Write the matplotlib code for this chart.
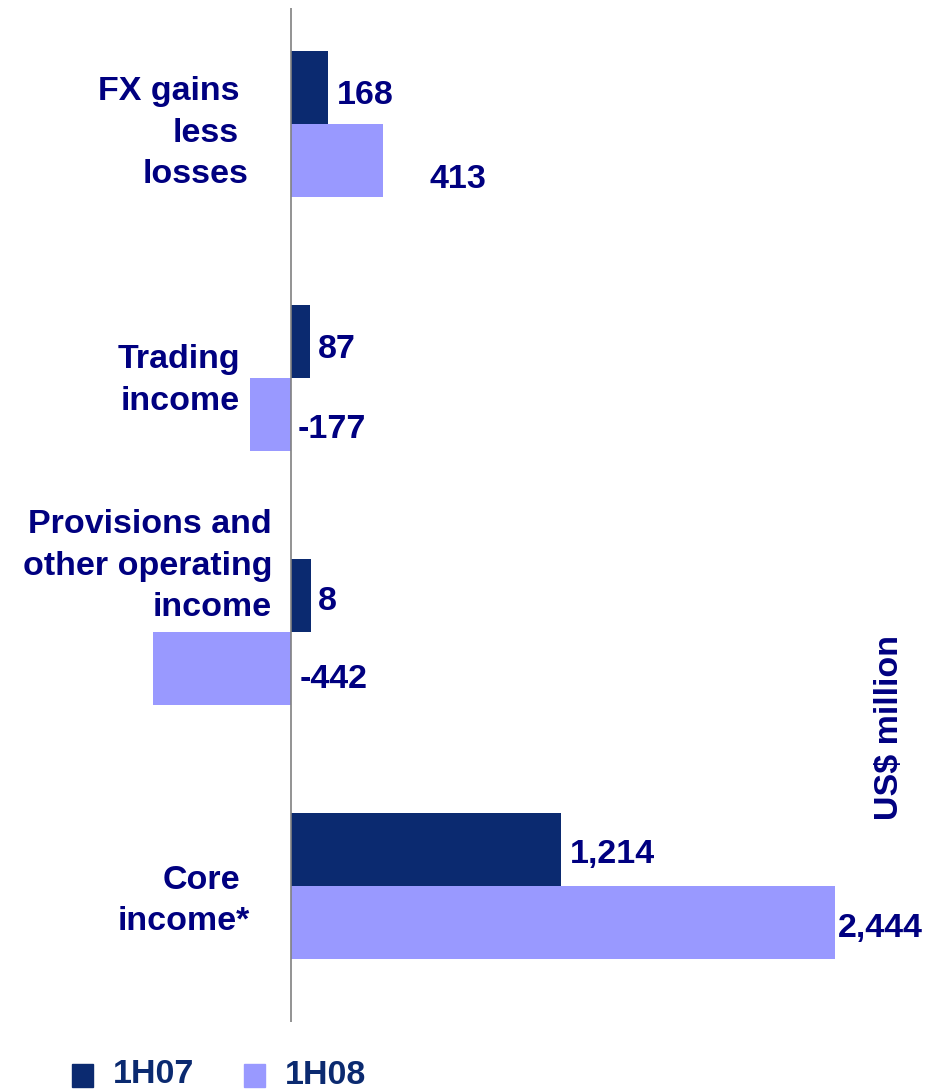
import matplotlib
matplotlib.use("Agg")
import matplotlib.pyplot as plt
from matplotlib.patches import Rectangle

plt.rcParams["font.family"] = ["Liberation Sans", "DejaVu Sans"]

# ---------------------------------------------------------------
# dados
# ---------------------------------------------------------------
CATEGORIAS = ["FX gains\nless\nlosses",
              "Trading\nincome",
              "Provisions and\nother operating\nincome",
              "Core\nincome*"]
SERIES = ["1H07", "1H08"]
VALORES_1H07 = [168, 87, 90, 1214]      # comprimento das barras
VALORES_1H08 = [413, -184, -620, 2444]
ROTULOS_1H07 = ["168", "87", "8", "1,214"]
ROTULOS_1H08 = ["413", "-177", "-442", "2,444"]
UNIDADE = "US$ million"

COR_1H07 = "#0B2A70"
COR_1H08 = "#9999FF"
COR_TEXTO = "#000080"
COR_LEGENDA = "#0B2A70"
FONTE = 24.5

# ---------------------------------------------------------------
W, H = 930, 1090
fig = plt.figure(figsize=(W / 100, H / 100), dpi=100)


def fx(x):
    return x / W


def fy(y):
    return 1 - y / H


def pt(px):
    return px * 72 / 100


# eixo ocupa toda a largura; linha vertical de y=8 a y=1022 (px)
ax = fig.add_axes([0, fy(1022), 1, (1022 - 8) / H])
escala = 0.2226   # px por unidade
x0 = 291          # posição do zero em px
ax.set_xlim(-x0 / escala, (W - x0) / escala)
passo = 254
ax.set_ylim(3 + 136 / passo, -116 / passo)
alt = 73 / passo

pos = list(range(len(CATEGORIAS)))
y_a = [p - alt / 2 for p in pos]
y_b = [p + alt / 2 for p in pos]
ax.barh(y_a, VALORES_1H07, height=alt, color=COR_1H07)
ax.barh(y_b, VALORES_1H08, height=alt, color=COR_1H08)
ax.axvline(0, color="#808080", lw=1.2)
ax.axis("off")

# rótulos de valor (deslocamentos em px)
dx_a, dy_a = [8, 8, 7, 9], [16, 16, 14, 14]
dx_b, dy_b = [47, 7, 9, 3], [27, 23, 20, 15]
for i in pos:
    ax.annotate(ROTULOS_1H07[i], xy=(max(VALORES_1H07[i], 0), y_a[i]),
                xytext=(pt(dx_a[i]), -pt(dy_a[i])), textcoords="offset points",
                ha="left", va="baseline", fontsize=FONTE, fontweight="bold",
                color=COR_TEXTO)
    ax.annotate(ROTULOS_1H08[i], xy=(max(VALORES_1H08[i], 0), y_b[i]),
                xytext=(pt(dx_b[i]), -pt(dy_b[i])), textcoords="offset points",
                ha="left", va="baseline", fontsize=FONTE, fontweight="bold",
                color=COR_TEXTO)

# nomes das categorias, linha a linha
dir_x = [[239, 239, 248], [240, 240], [272, 272, 272], [240, 250]]
base_y = [100, 368, 533, 889]
entrelinha = 41.5
for i, cat in enumerate(CATEGORIAS):
    for j, linha in enumerate(cat.split("\n")):
        fig.text(fx(dir_x[i][j]), fy(base_y[i] + j * entrelinha), linha,
                 ha="right", va="baseline", fontsize=FONTE,
                 fontweight="bold", color=COR_TEXTO)

# unidade
fig.text(fx(889), fy(727), UNIDADE, rotation=90, ha="center", va="center",
         fontsize=FONTE, fontweight="bold", color=COR_TEXTO)

# legenda
leg_x = [72, 244]
leg_base = [1083, 1084]
for k, (nome, cor) in enumerate(zip(SERIES, [COR_1H07, COR_1H08])):
    fig.patches.append(Rectangle((fx(leg_x[k]), fy(1087)), 21 / W, 23 / H,
                                 transform=fig.transFigure, color=cor))
    fig.text(fx(leg_x[k] + 41), fy(leg_base[k]), nome, ha="left",
             va="baseline", fontsize=FONTE, fontweight="bold",
             color=COR_LEGENDA)

fig.savefig("out.png", dpi=100)
